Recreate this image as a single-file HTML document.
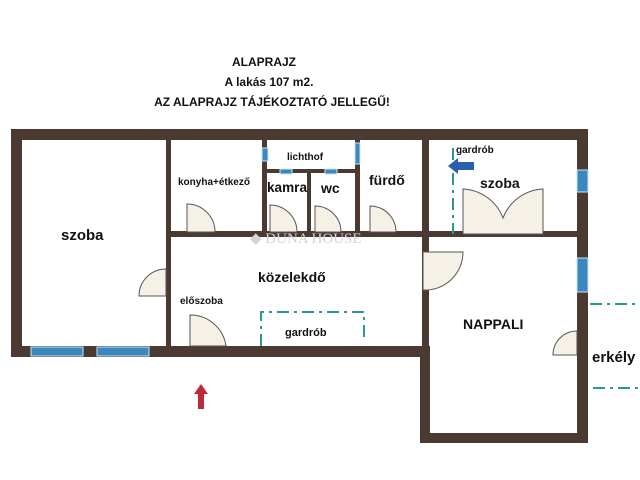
<!DOCTYPE html>
<html><head><meta charset="utf-8"><style>
html,body{margin:0;padding:0;background:#fff;width:640px;height:480px;overflow:hidden}
svg{display:block}
text{font-family:"Liberation Sans",Arial,sans-serif;font-weight:bold;fill:#111}
</style></head><body>
<svg width="640" height="480" viewBox="0 0 640 480" xmlns="http://www.w3.org/2000/svg">
<text x="264" y="66" font-size="12" text-anchor="middle">ALAPRAJZ</text>
<text x="269" y="86" font-size="12" text-anchor="middle">A lakás 107 m2.</text>
<text x="272" y="106" font-size="12" text-anchor="middle">AZ ALAPRAJZ TÁJÉKOZTATÓ JELLEGŰ!</text>

<g fill="#4a3a32">
<rect x="11" y="129" width="577" height="11"/>
<rect x="11" y="129" width="11" height="228"/>
<rect x="11" y="346" width="419" height="11"/>
<rect x="577" y="129" width="11" height="314"/>
<rect x="420" y="346" width="10" height="97"/>
<rect x="420" y="433" width="168" height="10"/>
<rect x="166" y="136" width="5" height="215"/>
<rect x="166" y="231" width="416" height="6"/>
<rect x="262" y="136" width="5" height="98"/>
<rect x="262" y="169" width="98" height="4"/>
<rect x="307" y="169" width="4" height="65"/>
<rect x="355" y="136" width="5" height="98"/>
<rect x="422" y="136" width="7" height="215"/>
</g>
<g fill="#3a88bf" stroke="#cfe3ee" stroke-width="1">
<rect x="31" y="347" width="52" height="9"/>
<rect x="97" y="347" width="52" height="9"/>
<rect x="262" y="148" width="6" height="13"/>
<rect x="280" y="169" width="12" height="5"/>
<rect x="325" y="169" width="12" height="5"/>
<rect x="355" y="143" width="5" height="21"/>
<rect x="577" y="170" width="11" height="22"/>
<rect x="577" y="258" width="11" height="34"/>
</g>
<g fill="#f6f1e6" stroke="#555" stroke-width="1">
<path d="M187 232 V204 A28 28 0 0 1 215 232 Z"/>
<path d="M270 232 V205 A27 27 0 0 1 297 232 Z"/>
<path d="M315 232 V206 A26 26 0 0 1 341 232 Z"/>
<path d="M370 232 V206 A26 26 0 0 1 396 232 Z"/>
<path d="M166 296 H139 A27 27 0 0 1 166 269 Z"/>
<path d="M190 346 V315 A36 36 0 0 1 226 346 Z"/>
<path d="M423 252 H463 A38 38 0 0 1 423 290 Z"/>
<path d="M577 355 H553 A24 24 0 0 1 577 331 Z"/>
<path d="M463 234 V189 A45 45 0 0 1 503 218 A45 45 0 0 1 543 189 V234 Z"/>
</g>
<g stroke="#2a9a90" stroke-width="2" fill="none" stroke-dasharray="12,5,3,5">
<path d="M261 346 V312 H364 V340"/>
<path d="M453 148 V234"/>
<path d="M590 304 H640"/>
<path d="M593 388 H640"/>
</g>
<path d="M448 166 L458 158 V162 H474 V170 H458 V174 Z" fill="#2a5fb0"/>
<path d="M201 384 L208 394 H204 V409 H198 V394 H194 Z" fill="#c0283a"/>
<text x="250" y="243" font-size="15" style="fill:#d4d4d4;font-family:'Liberation Serif',serif;font-weight:normal">◆ DUNA HOUSE</text>

<text x="61" y="240" font-size="15">szoba</text>
<text x="178" y="185" font-size="10">konyha+étkező</text>
<text x="287" y="160" font-size="10">lichthof</text>
<text x="267" y="192" font-size="14" textLength="40" lengthAdjust="spacingAndGlyphs">kamra</text>
<text x="321" y="193" font-size="14">wc</text>
<text x="369" y="185" font-size="14">fürdő</text>
<text x="456" y="153" font-size="10">gardrób</text>
<text x="480" y="188" font-size="14">szoba</text>
<text x="258" y="282" font-size="14">közelekdő</text>
<text x="180" y="304" font-size="10">előszoba</text>
<text x="285" y="336" font-size="11">gardrób</text>
<text x="463" y="329" font-size="14">NAPPALI</text>
<text x="592" y="362" font-size="15">erkély</text>
</svg>
</body></html>
